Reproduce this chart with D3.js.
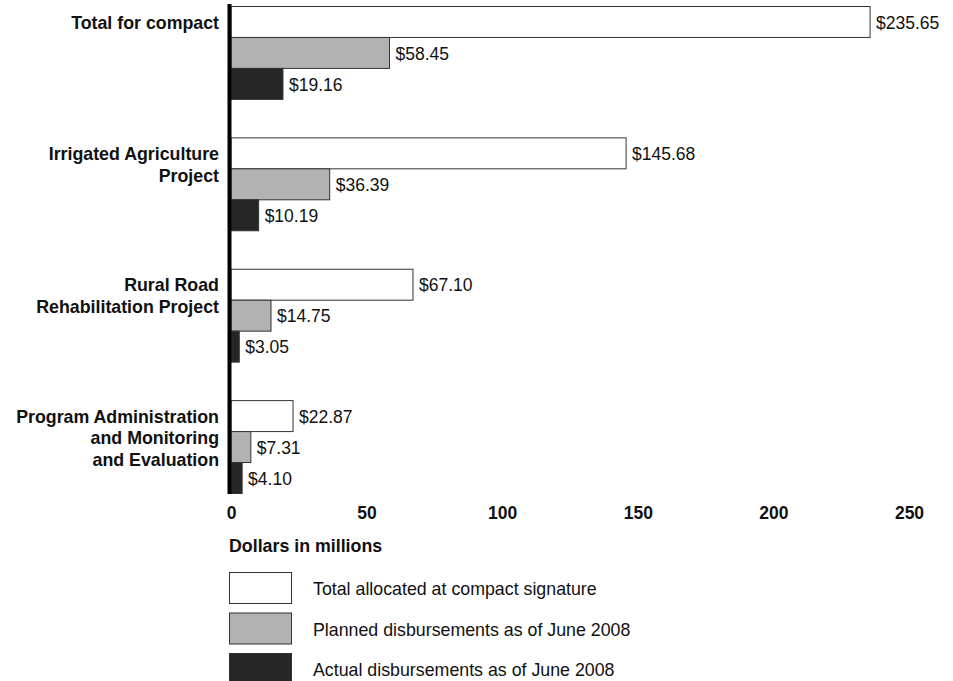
<!DOCTYPE html>
<html>
<head>
<meta charset="utf-8">
<script src="https://cdn.jsdelivr.net/npm/d3@7"></script>
<style>
  html, body { margin: 0; padding: 0; background: #fff; }
  svg { display: block; font-family: "Liberation Sans", Arial, Helvetica, sans-serif; }
</style>
</head>
<body>
<svg id="chart" width="953" height="681"></svg>
<script>
// Compact funding by project (dollars in millions)
const categories = [
  ["Total for compact"],
  ["Irrigated Agriculture", "Project"],
  ["Rural Road", "Rehabilitation Project"],
  ["Program Administration", "and Monitoring", "and Evaluation"]
];
const seriesNames = [
  "Total allocated at compact signature",
  "Planned disbursements as of June 2008",
  "Actual disbursements as of June 2008"
];
const totalAllocated = [235.65, 145.68, 67.10, 22.87];
const plannedDisb   = [58.45, 36.39, 14.75, 7.31];
const actualDisb    = [19.16, 10.19, 3.05, 4.10];
const tickValues = [0, 50, 100, 150, 200, 250];
const axisTitle = "Dollars in millions";

const seriesValues = [totalAllocated, plannedDisb, actualDisb];
const fills = ["#ffffff", "#b2b2b2", "#262626"];

const svg = d3.select("#chart");
const left = 231;

const x = d3.scaleLinear().domain([0, 250]).range([left, left + 678]);

const catKeys = categories.map((c, i) => i);
const y0 = d3.scaleBand().domain(catKeys).range([6, 493]).paddingInner(0.293).paddingOuter(0);
const y1 = d3.scaleBand().domain(d3.range(seriesNames.length)).range([0, y0.bandwidth()]).padding(0);

// bars
const groups = svg.append("g").selectAll("g")
  .data(catKeys).join("g")
  .attr("transform", i => `translate(0,${y0(i)})`);

groups.selectAll("rect")
  .data(i => seriesValues.map((vals, s) => ({ s, v: vals[i] })))
  .join("rect")
  .attr("x", x(0))
  .attr("y", d => y1(d.s) + 0.5)
  .attr("width", d => x(d.v) - x(0))
  .attr("height", y1.bandwidth())
  .attr("fill", d => fills[d.s])
  .attr("stroke", "#333")
  .attr("stroke-width", 1);

groups.selectAll("text.val")
  .data(i => seriesValues.map((vals, s) => ({ s, v: vals[i] })))
  .join("text")
  .attr("class", "val")
  .attr("x", d => x(d.v) + 6)
  .attr("y", d => y1(d.s) + y1.bandwidth() / 2 + 1)
  .attr("dy", "0.35em")
  .attr("font-size", 17.5)
  .attr("fill", "#111")
  .text(d => "$" + d.v.toFixed(2));

// category labels
const lineH = 21.5;
svg.append("g").selectAll("text")
  .data(catKeys).join("text")
  .attr("x", 219)
  .attr("y", i => y0(i) + y1.bandwidth() / 2 + 1)
  .attr("text-anchor", "end")
  .attr("font-size", 17.8)
  .attr("font-weight", "bold")
  .attr("fill", "#111")
  .each(function (i) {
    d3.select(this).selectAll("tspan")
      .data(categories[i]).join("tspan")
      .attr("x", 219)
      .attr("dy", (d, k) => k === 0 ? "0.35em" : lineH)
      .text(d => d);
  });

// vertical baseline
svg.append("line")
  .attr("x1", x(0) - 1.5).attr("x2", x(0) - 1.5)
  .attr("y1", 4).attr("y2", 494)
  .attr("stroke", "#000").attr("stroke-width", 4);

// x axis labels
const xAxis = d3.axisBottom(x).tickValues(tickValues).tickSize(0).tickPadding(0).tickFormat(d3.format("d"));
const axG = svg.append("g").attr("transform", "translate(0,507)").call(xAxis);
axG.select(".domain").remove();
axG.selectAll("text")
  .attr("font-family", "'Liberation Sans', Arial, sans-serif")
  .attr("font-size", 17.5)
  .attr("font-weight", "bold")
  .attr("fill", "#111")
  .attr("dy", "0.71em");

svg.append("text")
  .attr("x", 229).attr("y", 552)
  .attr("font-size", 17.8).attr("font-weight", "bold").attr("fill", "#111")
  .text(axisTitle);

// legend
const legend = svg.append("g").selectAll("g")
  .data(seriesNames).join("g")
  .attr("transform", (d, i) => `translate(229,${572 + i * 40.5})`);
legend.append("rect")
  .attr("x", 0.5).attr("y", 0.5)
  .attr("width", 62).attr("height", 31)
  .attr("fill", (d, i) => fills[i])
  .attr("stroke", "#333");
legend.append("text")
  .attr("x", 84).attr("y", 17)
  .attr("dy", "0.35em")
  .attr("font-size", 17.8).attr("fill", "#111")
  .text(d => d);
</script>
</body>
</html>
